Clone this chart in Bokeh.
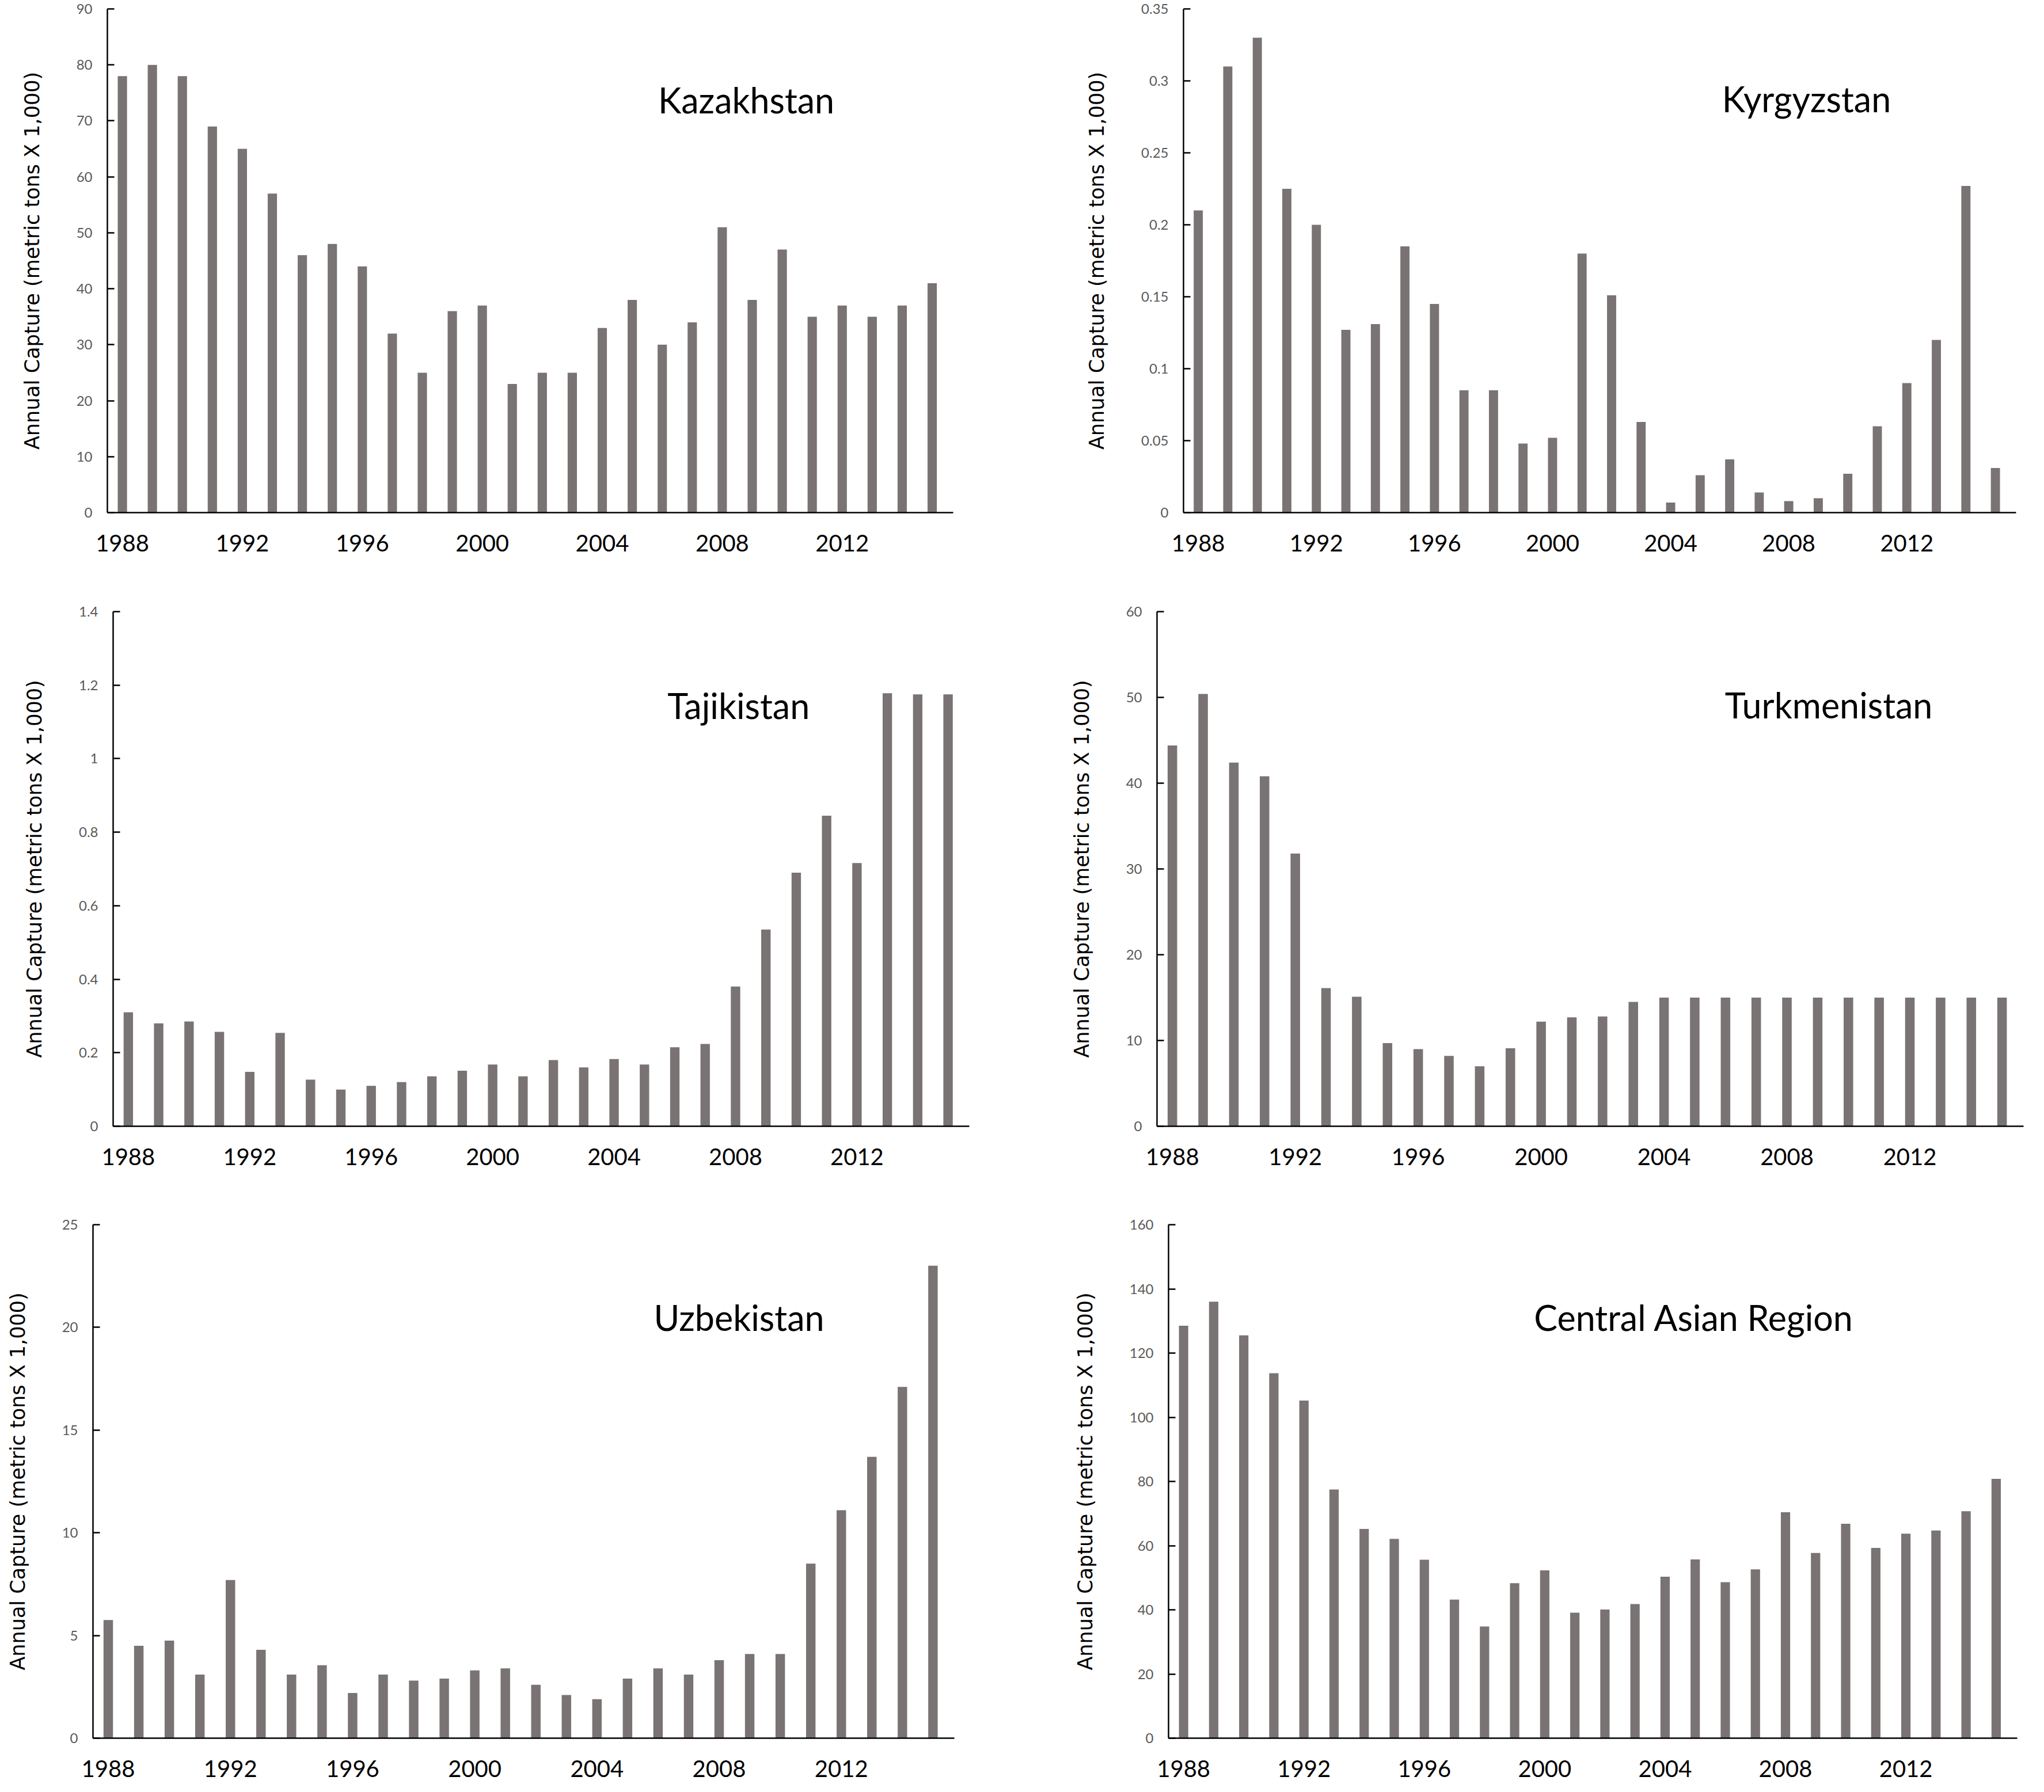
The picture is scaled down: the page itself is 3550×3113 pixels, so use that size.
from bokeh.plotting import figure
from bokeh.models import ColumnDataSource, Range1d, FixedTicker, Label
from bokeh.layouts import column, row
from bokeh.embed import file_html
from bokeh.resources import INLINE

years = list(range(1988, 2016))
x_ticks = [1988, 1992, 1996, 2000, 2004, 2008, 2012]

kazakhstan = [78, 80, 78, 69, 65, 57, 46, 48, 44, 32, 25, 36, 37, 23, 25, 25,
              33, 38, 30, 34, 51, 38, 47, 35, 37, 35, 37, 41]
kyrgyzstan = [0.21, 0.31, 0.33, 0.225, 0.2, 0.127, 0.131, 0.185, 0.145, 0.085,
              0.085, 0.048, 0.052, 0.18, 0.151, 0.063, 0.007, 0.026, 0.037,
              0.014, 0.008, 0.01, 0.027, 0.06, 0.09, 0.12, 0.227, 0.031]
tajikistan = [0.31, 0.28, 0.285, 0.257, 0.148, 0.254, 0.127, 0.10, 0.11, 0.12,
              0.136, 0.151, 0.168, 0.136, 0.18, 0.16, 0.183, 0.168, 0.215,
              0.224, 0.38, 0.535, 0.69, 0.845, 0.716, 1.178, 1.175, 1.175]
turkmenistan = [44.4, 50.4, 42.4, 40.8, 31.8, 16.1, 15.1, 9.7, 9.0, 8.2, 7.0,
                9.1, 12.2, 12.7, 12.8, 14.5, 15, 15, 15, 15, 15, 15, 15, 15,
                15, 15, 15, 15]
uzbekistan = [5.75, 4.5, 4.75, 3.1, 7.7, 4.3, 3.1, 3.55, 2.2, 3.1, 2.8, 2.9,
              3.3, 3.4, 2.6, 2.1, 1.9, 2.9, 3.4, 3.1, 3.8, 4.1, 4.1, 8.5, 11.1,
              13.7, 17.1, 23.0]
central_asia = [128.5, 136, 125.5, 113.7, 105.2, 77.5, 65.2, 62.1, 55.6, 43.2,
                34.8, 48.3, 52.3, 39.1, 40.1, 41.8, 50.3, 55.7, 48.6, 52.6,
                70.4, 57.7, 66.8, 59.3, 63.7, 64.7, 70.7, 80.8]

kaz_ticks = [0, 10, 20, 30, 40, 50, 60, 70, 80, 90]
kaz_labels = ["0", "10", "20", "30", "40", "50", "60", "70", "80", "90"]
kyr_ticks = [0, 0.05, 0.1, 0.15, 0.2, 0.25, 0.3, 0.35]
kyr_labels = ["0", "0.05", "0.1", "0.15", "0.2", "0.25", "0.3", "0.35"]
taj_ticks = [0, 0.2, 0.4, 0.6, 0.8, 1.0, 1.2, 1.4]
taj_labels = ["0", "0.2", "0.4", "0.6", "0.8", "1", "1.2", "1.4"]
tur_ticks = [0, 10, 20, 30, 40, 50, 60]
tur_labels = ["0", "10", "20", "30", "40", "50", "60"]
uzb_ticks = [0, 5, 10, 15, 20, 25]
uzb_labels = ["0", "5", "10", "15", "20", "25"]
cen_ticks = [0, 20, 40, 60, 80, 100, 120, 140, 160]
cen_labels = ["0", "20", "40", "60", "80", "100", "120", "140", "160"]

Y_LABEL = "Annual Capture (metric tons X 1,000)"
BAR = "#7a7373"

panels = [
    # name, values, ticks, labels, W, H, L, T, frame_w, frame_h, title_x, title_y
    ("Kazakhstan", kazakhstan, kaz_ticks, kaz_labels, 1770, 1028, 186, 15, 1469, 875, 2008.8, 73.8),
    ("Kyrgyzstan", kyrgyzstan, kyr_ticks, kyr_labels, 1764, 1028, 285, 15, 1446, 878, 2008.6, 0.2876),
    ("Tajikistan", tajikistan, taj_ticks, taj_labels, 1770, 1034, 196, 34, 1487, 894, 2008.1, 1.1445),
    ("Turkmenistan", turkmenistan, tur_ticks, tur_labels, 1764, 1034, 239, 27, 1505, 901, 2009.36, 49.1),
    ("Uzbekistan", uzbekistan, uzb_ticks, uzb_labels, 1770, 1043, 161, 61, 1496, 896, 2008.65, 20.5),
    ("Central Asian Region", central_asia, cen_ticks, cen_labels, 1764, 1043, 259, 65, 1474, 896, 2004.96, 131.1),
]

figs = []
for (name, vals, yt, yl, W, H, L, T, FW, FH, tx, ty) in panels:
    R = W - L - FW
    B = H - T - FH
    p = figure(width=W, height=H, output_backend="svg", toolbar_location=None,
               x_range=Range1d(1987.5, 2015.7), y_range=Range1d(0, yt[-1]),
               min_border_left=L, min_border_right=R, min_border_top=T,
               min_border_bottom=B, tools="")
    p.outline_line_color = None
    p.xgrid.grid_line_color = None
    p.ygrid.grid_line_color = None
    p.background_fill_color = "white"
    p.border_fill_color = "white"

    src = ColumnDataSource(dict(year=years, value=vals))
    p.vbar(x="year", top="value", width=0.31, source=src,
           fill_color=BAR, line_color=None)

    xa = p.xaxis[0]
    xa.ticker = FixedTicker(ticks=x_ticks)
    xa.major_tick_in = 0
    xa.major_tick_out = 0
    xa.minor_tick_in = 0
    xa.minor_tick_out = 0
    xa.axis_line_color = "black"
    xa.axis_line_width = 2.5
    xa.major_label_text_font = "Lato"
    xa.major_label_text_font_size = "40px"
    xa.major_label_text_color = "black"
    xa.major_label_standoff = 38

    ya = p.yaxis[0]
    ya.ticker = FixedTicker(ticks=yt)
    ya.major_label_overrides = {t: s for t, s in zip(yt, yl)}
    ya.major_tick_in = 12
    ya.major_tick_out = 0
    ya.minor_tick_in = 0
    ya.minor_tick_out = 0
    ya.major_tick_line_width = 2.5
    ya.axis_line_color = "black"
    ya.axis_line_width = 2.5
    ya.major_label_text_font = "Lato"
    ya.major_label_text_font_size = "24px"
    ya.major_label_text_color = "#595959"
    ya.major_label_standoff = 26
    ya.axis_label = Y_LABEL
    ya.axis_label_text_font = "DejaVu Sans"
    ya.axis_label_text_font_size = "35px"
    ya.axis_label_text_font_style = "normal"
    ya.axis_label_text_color = "black"
    ya.axis_label_standoff = 54

    p.add_layout(Label(x=tx, y=ty, text=name, text_font="Lato",
                       text_font_size="61px", text_color="black",
                       text_align="center", text_baseline="alphabetic"))
    figs.append(p)

layout = column(row(figs[0], figs[1]), row(figs[2], figs[3]), row(figs[4], figs[5]))

open("out.html", "w").write(file_html(layout, INLINE))
